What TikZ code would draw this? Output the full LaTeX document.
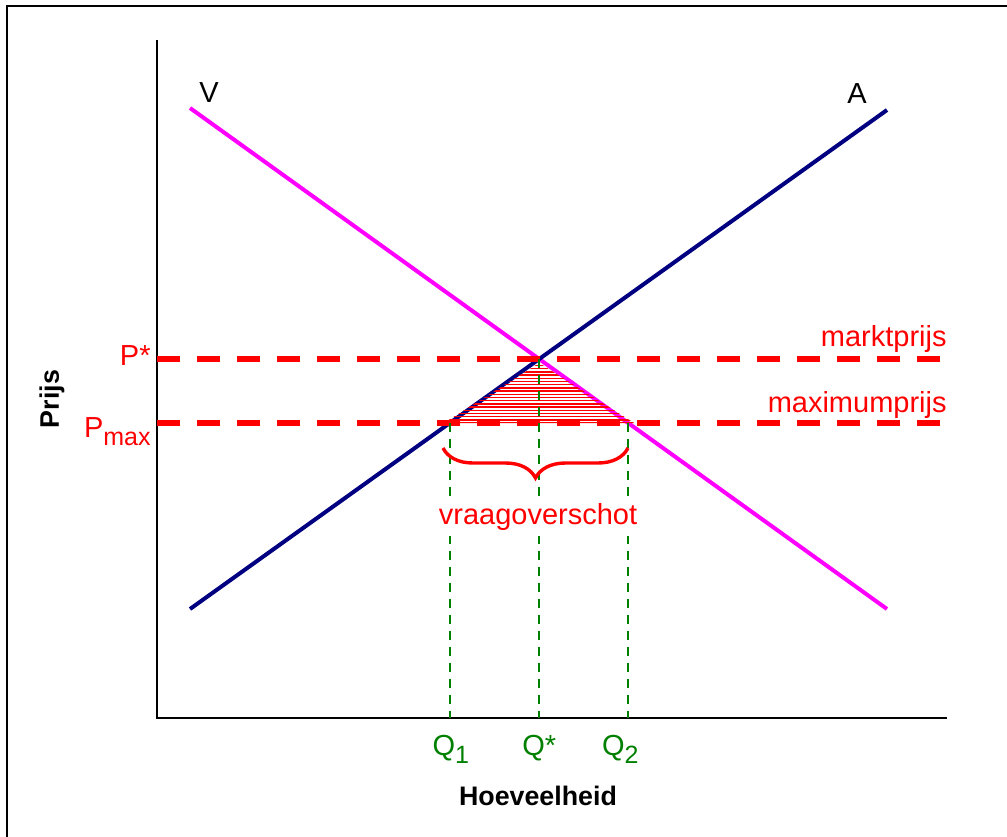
\documentclass[tikz,border=0pt]{standalone}
\usepackage{fontspec}
\setmainfont{Liberation Sans}
\usetikzlibrary{decorations.pathreplacing}
\definecolor{vraagkleur}{RGB}{255,0,255}
\definecolor{aanbodkleur}{RGB}{0,0,128}
\definecolor{qkleur}{RGB}{0,128,0}
\definecolor{pkleur}{RGB}{255,0,0}
\newcommand{\ondr}[1]{\raisebox{-0.28em}{\fontsize{12.5}{14}\selectfont #1}}
\tikzset{
  curve/.style={line width=2pt},
  prijslijn/.style={pkleur, line width=2.6pt, dash pattern=on 11.5pt off 8.5pt},
  qlijn/.style={qkleur, line width=1pt, dash pattern=on 4.5pt off 3.5pt},
  txt/.style={font=\fontsize{14.5}{17}\selectfont, inner sep=0pt},
  bold/.style={font=\fontsize{13.4}{16}\selectfont\bfseries, inner sep=0pt},
}
\begin{document}
\begin{tikzpicture}[x=0.5pt,y=-0.5pt]
\useasboundingbox (0,0) rectangle (1007,836);
\draw[line width=0.8pt] (7,6) rectangle (1030,860);

% assen
\coordinate (O) at (157,718);
\coordinate (ytop) at (157,40);
\coordinate (xend) at (947,718);
\draw[line width=1pt] (ytop) -- (O) -- (xend);

% vraag en aanbod
\coordinate (v1) at (190,108);
\coordinate (v2) at (887,609);
\coordinate (a1) at (190,609);
\coordinate (a2) at (887,110);
\draw[curve, vraagkleur] (v1) -- (v2);
\draw[curve, aanbodkleur] (a1) -- (a2);
\coordinate (E) at (intersection of v1--v2 and a1--a2);

\coordinate (pmL) at (157,423);
\coordinate (pmR) at (947,423);
\coordinate (Q1) at (intersection of a1--a2 and pmL--pmR);
\coordinate (Q2) at (intersection of v1--v2 and pmL--pmR);

% arcering
\begin{scope}
\clip ([xshift=-3]Q1) -- ([yshift=-2]E) -- ([xshift=3]Q2) -- cycle;
\foreach \y in {359,362.2,...,424}
  \draw[pkleur, line width=0.7pt] (400,\y) -- (680,\y);
\end{scope}

\draw[prijslijn] (O |- E) -- (xend |- E);
\draw[prijslijn] (pmL) -- (pmR);

\draw[qlijn] (Q1) -- (Q1 |- O);
\draw[qlijn] (E) -- (E |- O);
\draw[qlijn] (Q2) -- (Q2 |- O);

% accolade
\coordinate (bL) at (443,448);
\coordinate (bR) at (628,448);
\draw[pkleur, line width=1.7pt, decorate, decoration={brace, amplitude=15pt, mirror}] (bL) -- (bR);

\node[txt, anchor=base, pkleur, fill=white, inner sep=3pt] (tekort) at (538,524) {vraagoverschot};

\node[txt, anchor=base east, pkleur] (pster) at (151,365) {P*};
\node[txt, anchor=base east, pkleur] (pmax) at (151,437) {P\ondr{max}};
\node[txt, anchor=base east, pkleur] (markt) at (947,346) {marktprijs};
\node[txt, anchor=base east, pkleur] (maxi) at (947,412) {maximumprijs};

\node[txt, anchor=base, qkleur] (q1lbl) at ([xshift=0.5]Q1 |- 0,755) {Q\ondr{1}};
\node[txt, anchor=base, qkleur] (qster) at (E |- 0,755) {Q*};
\node[txt, anchor=base, qkleur] (q2lbl) at ([xshift=-4]Q2 |- 0,755) {Q\ondr{2}};

\node[txt, anchor=base] (vlbl) at (209,102) {V};
\node[txt, anchor=base] (albl) at (857,103) {A};

\node[bold, anchor=base] (xlbl) at (538,805) {Hoeveelheid};
\node[bold, rotate=90] (ylbl) at (52,399) {Prijs};
\end{tikzpicture}
\end{document}
